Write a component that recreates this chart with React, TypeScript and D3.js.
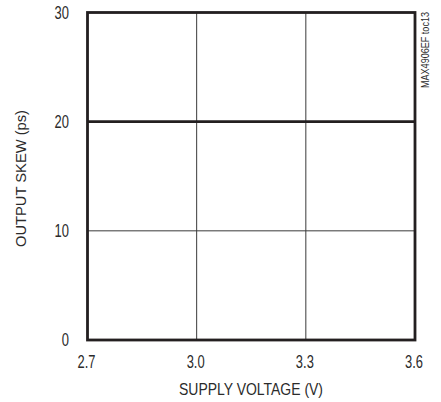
import React from "react";
import * as d3 from "d3";

// Supply voltage sweep (V) and measured output skew (ps)
const supplyVoltage = [2.7, 3.0, 3.3, 3.6];
const outputSkew = [20, 20, 20, 20];

const xTicks = [2.7, 3.0, 3.3, 3.6];
const yTicks = [0, 10, 20, 30];

const W = 441;
const H = 402;
const FONT = "'Liberation Sans', Arial, sans-serif";
const INK = "#231f20";
const TEXT = "#2b2b2b";
const NARROW = 0.74;

export default function App() {
  const left = 87.5;
  const right = 415;
  const top = 12.5;
  const bottom = 340;

  const x = d3.scaleLinear().domain([2.7, 3.6]).range([left, right]);
  const y = d3.scaleLinear().domain([0, 30]).range([bottom, top]);

  const line = d3
    .line<number>()
    .x((_, i) => x(supplyVoltage[i]))
    .y((d) => y(d));

  return (
    <svg
      width={W}
      height={H}
      style={{ position: "absolute", left: 0, top: 0, background: "#fff" }}
    >
      {/* grid */}
      {xTicks.slice(1, -1).map((t) => (
        <line key={"gx" + t} x1={x(t)} x2={x(t)} y1={top} y2={bottom} stroke="#3a3a3a" strokeWidth={1} />
      ))}
      {yTicks.slice(1, -1).map((t) => (
        <line key={"gy" + t} x1={left} x2={right} y1={y(t)} y2={y(t)} stroke="#3a3a3a" strokeWidth={1} />
      ))}

      {/* data */}
      <path d={line(outputSkew) || ""} fill="none" stroke={INK} strokeWidth={2.6} />

      {/* frame */}
      <rect x={left} y={top} width={right - left} height={bottom - top} fill="none" stroke={INK} strokeWidth={2.8} />

      {/* tick labels, condensed */}
      {yTicks.map((t) => (
        <text
          key={"yl" + t}
          transform={`translate(69,${y(t)}) scale(${NARROW},1)`}
          dy="0.36em"
          textAnchor="end"
          fontFamily={FONT}
          fontSize={17.5}
          fill={TEXT}
        >
          {t}
        </text>
      ))}
      {xTicks.map((t) => (
        <text
          key={"xl" + t}
          transform={`translate(${x(t) - 1},367.5) scale(${NARROW},1)`}
          textAnchor="middle"
          fontFamily={FONT}
          fontSize={17.5}
          fill={TEXT}
        >
          {d3.format(".1f")(t)}
        </text>
      ))}

      {/* axis titles */}
      <text
        x={179}
        y={394.5}
        textLength={144}
        lengthAdjust="spacingAndGlyphs"
        fontFamily={FONT}
        fontSize={17}
        fill={TEXT}
      >
        SUPPLY VOLTAGE (V)
      </text>
      <text
        transform={`translate(25.5,247) rotate(-90)`}
        textLength={137}
        lengthAdjust="spacingAndGlyphs"
        fontFamily={FONT}
        fontSize={15}
        fill={TEXT}
      >
        OUTPUT SKEW (ps)
      </text>

      {/* figure id */}
      <text
        transform={`translate(429,88) rotate(-90)`}
        textLength={76}
        lengthAdjust="spacingAndGlyphs"
        fontFamily={FONT}
        fontSize={10.5}
        fill={TEXT}
      >
        MAX4906EF toc13
      </text>
    </svg>
  );
}
